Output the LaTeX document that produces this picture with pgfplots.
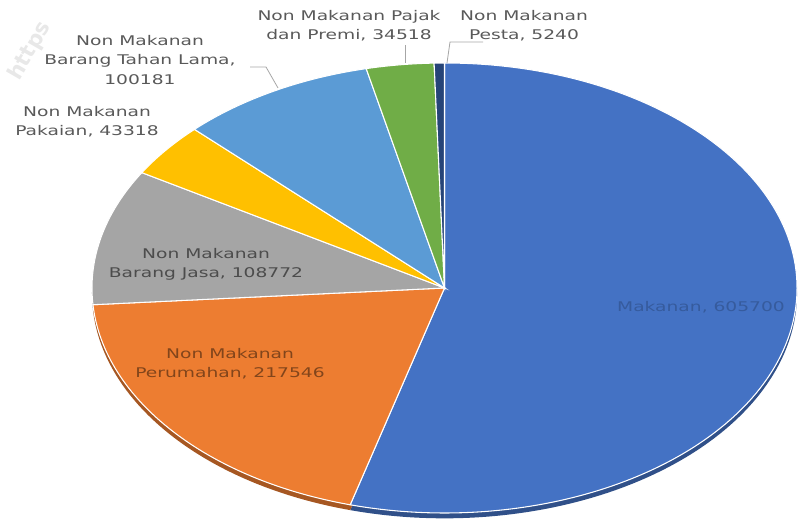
\documentclass[border=0pt]{standalone}
\usepackage{pgfplots}
\pgfplotsset{compat=1.18}
\usepackage{fontspec}
\setmainfont{DejaVu Sans}
\newfontfamily\lab[FakeStretch=1.4]{DejaVu Sans}
\definecolor{cA}{HTML}{4472C4}
\definecolor{cB}{HTML}{ED7D31}
\definecolor{cC}{HTML}{A5A5A5}
\definecolor{cD}{HTML}{FFC000}
\definecolor{cE}{HTML}{5B9BD5}
\definecolor{cF}{HTML}{70AD47}
\definecolor{cG}{HTML}{264478}
\definecolor{txt}{HTML}{595959}
\definecolor{lead}{HTML}{A6A6A6}
% values
\def\vA{605700}% Makanan
\def\vB{217546}% Non Makanan Perumahan
\def\vC{108772}% Non Makanan Barang Jasa
\def\vD{43318}%  Non Makanan Pakaian
\def\vE{100181}% Non Makanan Barang Tahan Lama
\def\vF{34518}%  Non Makanan Pajak dan Premi
\def\vG{5240}%   Non Makanan Pesta
\edef\tot{\fpeval{\vA+\vB+\vC+\vD+\vE+\vF+\vG}}
\edef\aO{90}
\edef\aA{\fpeval{\aO-360*\vA/\tot}}
\edef\aB{\fpeval{\aA-360*\vB/\tot}}
\edef\aC{\fpeval{\aB-360*\vC/\tot}}
\edef\aD{\fpeval{\aC-360*\vD/\tot}}
\edef\aE{\fpeval{\aD-360*\vE/\tot}}
\edef\aF{\fpeval{\aE-360*\vF/\tot}}
\edef\aG{\fpeval{\aF-360*\vG/\tot}}
\def\rx{264.4pt}
\def\ry{168.75pt}
\newcommand\slice[4][]{\fill[#2,#1] (axis cs:444.5,237) -- ++(#3:\rx\space and \ry) arc[start angle=#3, end angle=#4, x radius=\rx, y radius=\ry] -- cycle;}
\begin{document}
\begin{tikzpicture}
\begin{axis}[
  width=600pt, height=393.75pt, scale only axis,
  xmin=0, xmax=800, ymin=0, ymax=525,
  hide axis, clip=false]
% watermark
\node[rotate=60, text=black!9, font=\bfseries\fontsize{16}{18}\selectfont] at (axis cs:30,474) {https};
% rim (3D thickness)
\slice[yshift=-4pt]{cA!70!black}{\aO}{\aA}
\slice[yshift=-4pt]{cB!70!black}{\aA}{\aB}
\slice[yshift=-4pt]{cC!70!black}{\aB}{\aC}
% top faces
\slice[draw=white, line width=0.8pt]{cA}{\aO}{\aA}
\slice[draw=white, line width=0.8pt]{cB}{\aA}{\aB}
\slice[draw=white, line width=0.8pt]{cC}{\aB}{\aC}
\slice[draw=white, line width=0.8pt]{cD}{\aC}{\aD}
\slice[draw=white, line width=0.8pt]{cE}{\aD}{\aE}
\slice[draw=white, line width=0.8pt]{cF}{\aE}{\aF}
\slice[draw=white, line width=0.8pt]{cG}{\aF}{\aG}
% leader lines
\draw[lead, line width=0.6pt] (axis cs:405,480) -- (axis cs:405,462);
\draw[lead, line width=0.6pt] (axis cs:483,483) -- (axis cs:450,483) -- (axis cs:447,462);
\draw[lead, line width=0.6pt] (axis cs:250,458) -- (axis cs:266,458) -- (axis cs:278,437);
% labels
\begin{scope}[every node/.style={font=\lab\fontsize{10}{14.5}\selectfont, align=center, inner sep=0pt}]
\node[text=txt] at (axis cs:349,499) {Non Makanan Pajak\\dan Premi, 34518};
\node[text=txt] at (axis cs:524,499) {Non Makanan\\Pesta, 5240};
\node[text=txt] at (axis cs:140,465) {Non Makanan\\Barang Tahan Lama,\\100181};
\node[text=txt] at (axis cs:87,403) {Non Makanan\\Pakaian, 43318};
\node[text=black!70] at (axis cs:206,261) {Non Makanan\\Barang Jasa, 108772};
\node[text=cB!55!black] at (axis cs:230,161) {Non Makanan\\Perumahan, 217546};
\node[text=cA!80!black] at (axis cs:701,218) {Makanan, 605700};
\end{scope}
\end{axis}
\pgfresetboundingbox
\path (0,0) rectangle (600pt,393.75pt);
\end{tikzpicture}
\end{document}
